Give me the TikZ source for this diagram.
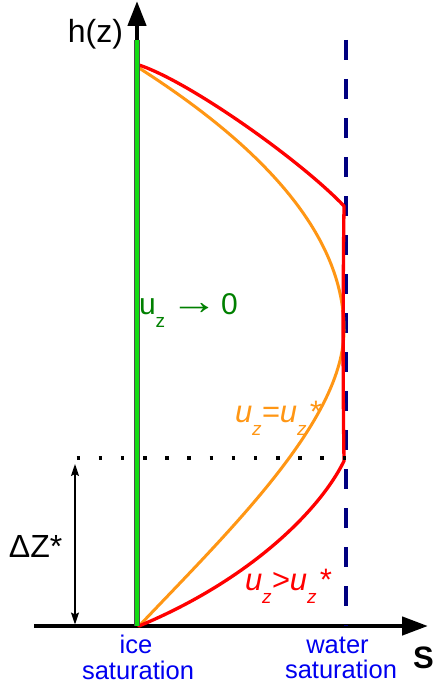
\documentclass[tikz,border=0pt]{standalone}
\usepackage{fontspec}
\setmainfont{Liberation Sans}
\usetikzlibrary{arrows.meta}
\definecolor{gline}{RGB}{20,220,20}
\definecolor{gtext}{RGB}{0,128,0}
\definecolor{oline}{RGB}{255,150,20}
\definecolor{rline}{RGB}{255,0,0}
\definecolor{navyd}{RGB}{0,0,128}
\definecolor{btext}{RGB}{0,0,240}
\newcommand{\subz}{\raisebox{-13pt}{\fontsize{19}{19}\selectfont z}}
\begin{document}
\begin{tikzpicture}[x=1pt,y=-1pt,
  lbl/.style={inner sep=0pt,outer sep=0pt},
  big/.style={font=\fontsize{32}{33}\selectfont},
  ulab/.style={font=\fontsize{31}{32}\selectfont\itshape},
  small/.style={font=\fontsize{25.5}{27}\selectfont, text=btext},
  axisline/.style={line width=4.5pt,draw=black},
  curve/.style={line width=3.3pt,line join=round,line cap=round}]
\useasboundingbox (0,0) rectangle (433,690);
% coordinates
\coordinate (O) at (137,626);
\coordinate (ytip) at (137,1);
\coordinate (xl) at (34,626);
\coordinate (xtip) at (428,626);
\coordinate (gtop) at (137,40);
\coordinate (dtop) at (345.5,40);
\coordinate (dbot) at (345.5,626);
\coordinate (rstart) at (139,65);
\coordinate (rk1) at (344,206);
\coordinate (rk2) at (344,461);
\coordinate (cend) at (139,626);
\coordinate (ostart) at (139,68);
\coordinate (overt) at (344,330);
\coordinate (dl) at (76.5,458);
\coordinate (dr) at (347,458);
\coordinate (zt) at (75,464);
\coordinate (zb) at (75,624.5);
% axes
\draw[axisline,-{Triangle[length=25pt,width=18pt]}] (O) -- (ytip);
\draw[axisline,-{Triangle[length=26pt,width=18pt]}] (xl) -- (xtip);
% dashed water saturation line
\draw[navyd,line width=4pt,dash pattern=on 20pt off 19pt] (dtop) -- (dbot);
% orange curve
\draw[curve,oline,line width=3pt] (ostart) .. controls (275.7,155.3) and (344,242.7) .. (overt)
  .. controls (344,420) and (230,530) .. (cend);
% red curve
\draw[curve,rline] (rstart) .. controls (190,82) and (300,160) .. (rk1)
  .. controls (342.8,300) and (342.8,380) .. (rk2)
  .. controls (320,510) and (250,580) .. (cend);
% green line
\draw[line width=5.5pt,black!70] (gtop) -- (O);
\draw[line width=3.5pt,gline] (gtop) -- (O);
% dotted line
\draw[line width=3.5pt,dash pattern=on 3.5pt off 18.67pt] (dl) -- (dr);
% Delta Z arrow
\draw[line width=1.5pt,{Stealth[length=12pt,width=8pt,inset=2pt]}-{Stealth[length=12pt,width=8pt,inset=2pt]}] (zt) -- (zb);
% labels
\node[lbl,big,anchor=base east] (hz) at (123,43) {h(z)};
\node[lbl,big,anchor=base west] (dz) at (9,557) {ΔZ*};
\node[lbl,anchor=base west,font=\fontsize{31}{32}\selectfont\bfseries] (S) at (413,668) {S};
\node[lbl,small,anchor=base] (ice1) at (136,653) {ice};
\node[lbl,small,anchor=base] (ice2) at (138,679) {saturation};
\node[lbl,small,anchor=base] (wat1) at (337.5,653) {water};
\node[lbl,small,anchor=base] (wat2) at (341,678) {saturation};
\node[lbl,text=gtext,anchor=base west,font=\fontsize{30}{31}\selectfont] (g0) at (139,314) {u\subz\hspace{5pt}\scalebox{1.6}[1.3]{→}\hspace{3pt}0};
\node[lbl,ulab,text=oline,anchor=base west] (oeq) at (235,422) {u\subz=u\subz\hspace{2pt}*};
\node[lbl,ulab,text=rline,anchor=base west] (rgt) at (245,590) {u\subz>u\subz\hspace{2pt}*};
\end{tikzpicture}
\end{document}
